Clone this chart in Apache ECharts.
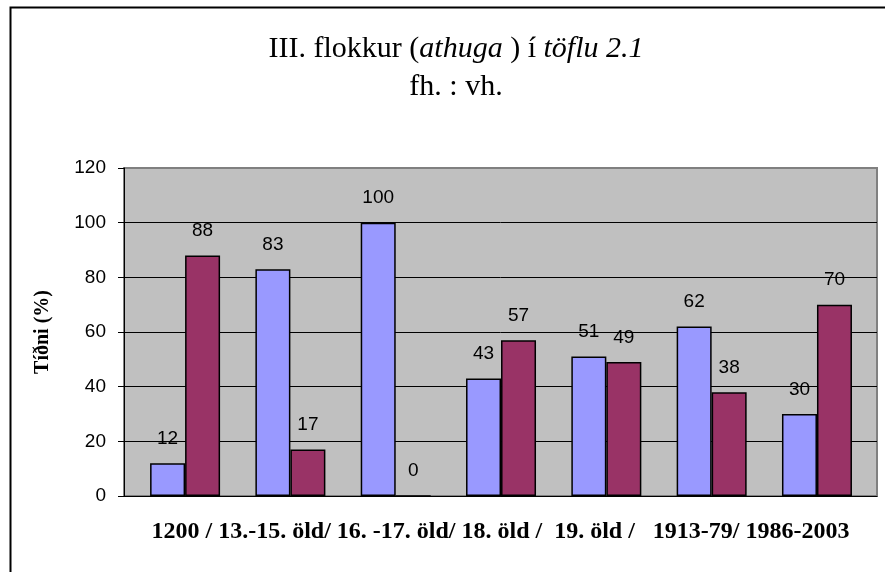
<!DOCTYPE html>
<html>
<head>
<meta charset="utf-8">
<script src="https://cdn.jsdelivr.net/npm/echarts@6/dist/echarts.min.js"></script>
<style>
  html, body { margin: 0; padding: 0; background: #ffffff; }
  #chart { width: 885px; height: 572px; }
</style>
</head>
<body>
<div id="chart"></div>
<script>
// Periods (category order along the horizontal axis)
const periods = ['1200', '13.-15. öld', '16.-17. öld', '18. öld', '19. öld', '1913-79', '1986-2003'];
// Share in percent: fh. (front) and vh. (back)
const fhValues = [12, 83, 100, 43, 51, 62, 30];
const vhValues = [88, 17, 0, 57, 49, 38, 70];
// Value-axis ticks
const yTicks = { min: 0, max: 120, step: 20 };

const xTitle = '1200 / 13.-15. öld/ 16. -17. öld/ 18. öld /  19. öld /   1913-79/ 1986-2003';

const serif = '"Liberation Serif", "Times New Roman", serif';
const sans = '"Liberation Sans", Arial, sans-serif';

const chart = echarts.init(document.getElementById('chart'), null, { renderer: 'canvas' });

const labelStyle = {
  show: true,
  position: 'top',
  distance: 15,
  color: '#000',
  fontFamily: sans,
  fontSize: 19
};

chart.setOption({
  animation: false,
  backgroundColor: '#ffffff',
  title: {
    left: 451,
    top: 25,
    textAlign: 'center',
    text: '{n|III. flokkur (}{i|athuga}{n| ) í }{i|töflu 2.1}\n{n|fh. : vh.}',
    textStyle: {
      fontWeight: 'normal',
      rich: {
        n: { fontFamily: serif, fontSize: 30, fontWeight: 'normal', color: '#000', lineHeight: 38 },
        i: { fontFamily: serif, fontSize: 30, fontWeight: 'normal', fontStyle: 'italic', color: '#000', lineHeight: 38 }
      }
    }
  },
  graphic: [{
    type: 'rect',
    left: 8, top: 5,
    shape: { width: 900, height: 600 },
    style: { fill: 'none', stroke: '#000', lineWidth: 2 },
    z: -1
  }],
  grid: {
    left: 124, right: 8, top: 168, bottom: 76,
    show: true,
    backgroundColor: '#C0C0C0',
    borderColor: '#808080',
    borderWidth: 2
  },
  xAxis: {
    type: 'value',
    min: -0.58,
    max: 6.57,
    name: xTitle,
    nameLocation: 'middle',
    nameGap: 24,
    nameTextStyle: { fontFamily: serif, fontWeight: 'bold', fontSize: 24, color: '#000' },
    axisLine: { show: true, onZero: false, lineStyle: { color: '#000', width: 1 } },
    axisTick: { show: false },
    axisLabel: { show: false },
    splitLine: { show: false }
  },
  yAxis: {
    type: 'value',
    min: yTicks.min,
    max: yTicks.max,
    interval: yTicks.step,
    name: 'Tíðni (%)',
    nameLocation: 'middle',
    nameRotate: 90,
    nameGap: 71,
    nameTextStyle: { fontFamily: serif, fontWeight: 'bold', fontSize: 20, color: '#000' },
    axisLine: { show: true, onZero: false, lineStyle: { color: '#000', width: 1 } },
    axisTick: { show: true, inside: false, length: 6, lineStyle: { color: '#000' } },
    axisLabel: { color: '#000', fontFamily: sans, fontSize: 19, margin: 18 },
    splitLine: { show: true, showMaxLine: false, lineStyle: { color: '#000', width: 1 } }
  },
  series: [
    {
      name: 'fh.',
      type: 'bar',
      barWidth: 35,
      barGap: '0%',
      data: fhValues.map((v, i) => [i, v]),
      itemStyle: { color: '#9999FF', borderColor: '#000', borderWidth: 1.5 },
      label: labelStyle
    },
    {
      name: 'vh.',
      type: 'bar',
      barWidth: 35,
      barGap: '0%',
      data: vhValues.map((v, i) => [i, v]),
      itemStyle: { color: '#993366', borderColor: '#000', borderWidth: 1.5 },
      label: labelStyle
    }
  ]
});
</script>
</body>
</html>
